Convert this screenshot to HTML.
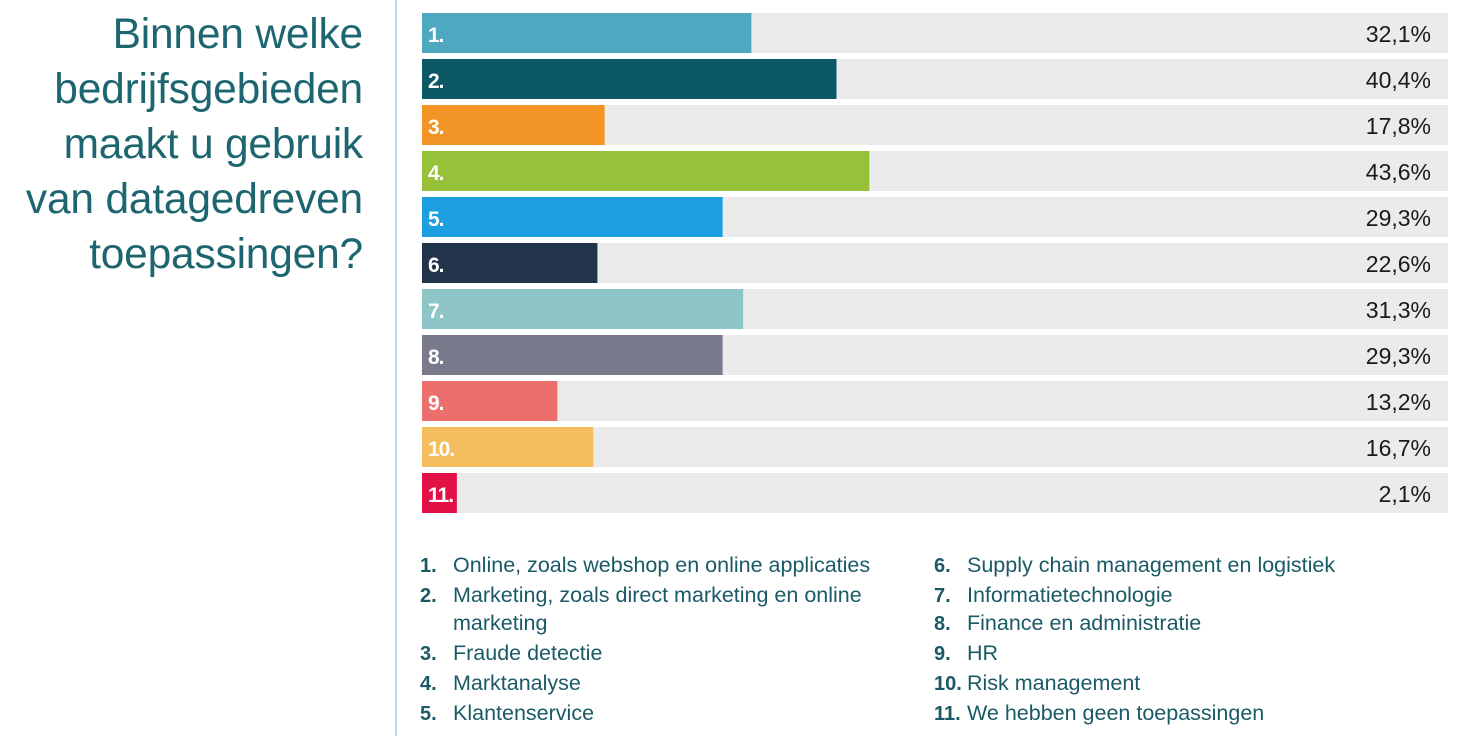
<!DOCTYPE html>
<html><head><meta charset="utf-8"><style>
body{margin:0;width:1464px;height:736px;background:#fff;position:relative;overflow:hidden;font-family:"Liberation Sans",sans-serif}
#title{position:absolute;right:1101px;top:7px;text-align:right;color:#1d6670;font-size:42.5px;line-height:55px;font-weight:normal;letter-spacing:-0.2px;white-space:nowrap}
#divider{position:absolute;left:395px;top:0;width:2px;height:736px;background:#b7dbe6}
.leg{position:absolute;color:#1a5a66;font-size:21.5px;line-height:29.6px}
.leg b{position:absolute;left:0;font-weight:900;font-size:20px;margin-top:1px}
.leg span{position:absolute;left:33px;white-space:nowrap}
</style></head><body>
<div id="title">Binnen welke<br>bedrijfsgebieden<br>maakt u gebruik<br>van datagedreven<br>toepassingen?</div>
<div id="divider"></div>
<svg id="chart" width="1464" height="530" style="position:absolute;left:0;top:0"></svg>
<div class="leg" style="left:420px;top:551px;width:480px;height:185px">
<b style="top:0">1.</b><span style="top:0">Online, zoals webshop en online applicaties</span>
<b style="top:29.6px">2.</b><span style="top:29.6px">Marketing, zoals direct marketing en online</span>
<span style="top:58px">marketing</span>
<b style="top:88px">3.</b><span style="top:88px">Fraude detectie</span>
<b style="top:118px">4.</b><span style="top:118px">Marktanalyse</span>
<b style="top:148px">5.</b><span style="top:148px">Klantenservice</span>
</div>
<div class="leg" style="left:934px;top:551px;width:520px;height:185px">
<b style="top:0">6.</b><span style="top:0">Supply chain management en logistiek</span>
<b style="top:29.6px">7.</b><span style="top:29.6px">Informatietechnologie</span>
<b style="top:58px">8.</b><span style="top:58px">Finance en administratie</span>
<b style="top:88px">9.</b><span style="top:88px">HR</span>
<b style="top:118px">10.</b><span style="top:118px">Risk management</span>
<b style="top:148px">11.</b><span style="top:148px">We hebben geen toepassingen</span>
</div>
<script>
const categories=["1.","2.","3.","4.","5.","6.","7.","8.","9.","10.","11."];
const values=[32.1,40.4,17.8,43.6,29.3,17.1,31.3,29.3,13.2,16.7,3.4];
const valueLabels=["32,1%","40,4%","17,8%","43,6%","29,3%","22,6%","31,3%","29,3%","13,2%","16,7%","2,1%"];
const colors=["#4ea8c0","#0d5866","#f29325","#98c13a","#1c9fe0","#23344a","#8ec6c7","#787a8c","#ec6f6e","#f4be5e","#e21045"];
const svg=document.getElementById('chart');
const NS='http://www.w3.org/2000/svg';
const x0=422,x1=1448,y0=13,pitch=46,bh=40;
const xs=v=>x0+(x1-x0)*v/100;
const ys=i=>y0+i*pitch;
function mk(t,a){const e=document.createElementNS(NS,t);for(const k in a)e.setAttribute(k,a[k]);svg.appendChild(e);return e;}
categories.forEach((c,i)=>{
  const tr=mk('rect',{x:x0,y:ys(i),width:x1-x0,height:bh,fill:'#ebebeb'});
  
  
  const b=mk('rect',{x:x0,y:ys(i),width:xs(values[i])-x0,height:bh,fill:colors[i]});
  
  
  const l=mk('text',{x:x0+6,y:ys(i)+29,fill:'#fff','font-size':'21','font-weight':'900','font-family':'Liberation Sans, sans-serif','letter-spacing':'-1'});
  l.textContent=c;
  
  
  const v=mk('text',{x:1431,y:ys(i)+29,fill:'#1a1a1a','font-size':'23','text-anchor':'end','font-family':'Liberation Sans, sans-serif'});
  v.textContent=valueLabels[i];
  
  
});
</script>
</body></html>
